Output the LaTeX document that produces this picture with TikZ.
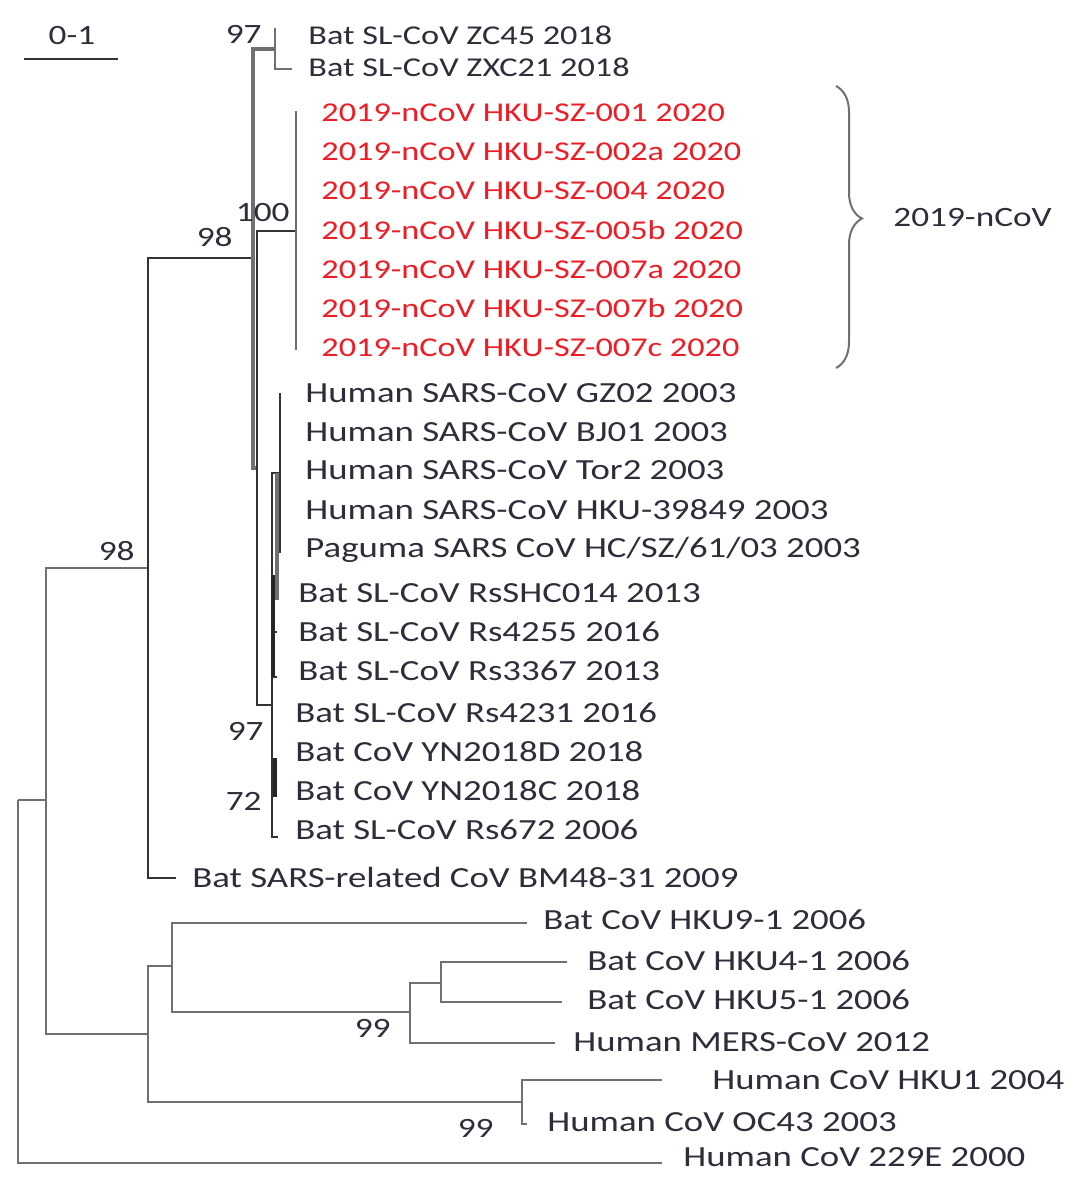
\documentclass[tikz,border=0pt]{standalone}
\usepackage{fontspec}
\setmainfont{Carlito}[FakeStretch=1.26]
\usetikzlibrary{decorations.pathreplacing}
\definecolor{txtc}{HTML}{2E2E3A}
\definecolor{nred}{HTML}{EE1C25}
\definecolor{lgray}{HTML}{707070}
\definecolor{dgray}{HTML}{333333}
\tikzset{
  branch/.style={draw=lgray, line width=1pt},
  darkbranch/.style={draw=dgray, line width=1pt},
  heavy/.style={draw=black!85, line width=2pt},
  lab/.style={anchor=base west, inner sep=0pt, text=txtc, font=\fontsize{14.6}{16}\selectfont},
  smalllab/.style={lab, font=\fontsize{13.6}{15}\selectfont},
  redlab/.style={smalllab, text=nred},
  boot/.style={anchor=base east, inner sep=0pt, text=txtc, font=\fontsize{14}{16}\selectfont},
}
\begin{document}
\begin{tikzpicture}[x=0.5pt, y=-0.5pt]
\useasboundingbox (0,0) rectangle (1080,1184);

% ---- coordinates of internal nodes and branch ends
\coordinate (root) at (18,800);
\coordinate (n1) at (46,800);
\coordinate (e229E) at (662,1163);
\coordinate (sarb) at (148,568);
\coordinate (oth) at (148,1034);
\coordinate (nA) at (253,258);
\coordinate (eBM) at (176,878);
\coordinate (nZ) at (275,49);
\coordinate (eZC45) at (275,28);
\coordinate (eZXC21) at (292,69);
\coordinate (nB) at (257,468);
\coordinate (nN) at (296,231);
\coordinate (c1) at (296,111);
\coordinate (c7) at (296,350);
\coordinate (nS) at (272,705);
\coordinate (nH) at (280,473);
\coordinate (h1) at (280,393);
\coordinate (h5) at (280,553);
\coordinate (hg1) at (277,473);
\coordinate (hg2) at (277,600);
\coordinate (rTop) at (273,575);
\coordinate (rBot) at (273,677);
\coordinate (r2) at (277,632);
\coordinate (r3) at (277,677);
\coordinate (yTop) at (275,758);
\coordinate (yBot) at (275,797);
\coordinate (e672) at (278,837);
\coordinate (n3) at (172,966);
\coordinate (n4) at (522,1102);
\coordinate (eH9) at (527,923);
\coordinate (n5) at (410,1012);
\coordinate (n6) at (441,983);
\coordinate (eMERS) at (555,1043);
\coordinate (eH4) at (567,962);
\coordinate (eH5) at (562,1002);
\coordinate (eH1) at (662,1080);
\coordinate (eOC) at (527,1124);

% ---- branches
\draw[branch] (root) |- (n1);
\draw[branch] (root) |- (e229E);
\draw[branch] (n1) |- (sarb);
\draw[branch] (n1) |- (oth);
\draw[darkbranch] (sarb) |- (nA);
\draw[darkbranch] (sarb) |- (eBM);
\draw[branch, line width=1.6pt] (nA) |- (nZ);
\draw[branch, line width=1.6pt] (nA) |- (nB);
\draw[branch] (nZ) -- (eZC45);
\draw[branch] (nZ) |- (eZXC21);
\draw[darkbranch] (nB) |- (nN);
\draw[darkbranch] (nB) |- (nS);
\draw[branch, line width=1.4pt] (nN) -- (c1);
\draw[branch, line width=1.4pt] (nN) -- (c7);
\draw[darkbranch] (nS) |- (nH);
\draw[darkbranch] (nS) |- (e672);
\draw[darkbranch] (nH) -- (h1);
\draw[darkbranch] (nH) -- (h5);
\draw[branch, line width=2pt] (hg1) -- (hg2);
\draw[heavy] (rTop) -- (rBot);
\draw[darkbranch] (rBot |- r2) -- (r2);
\draw[darkbranch] (rBot) -- (r3);
\draw[heavy] (yTop) -- (yBot);
\draw[branch] (oth) |- (n3);
\draw[branch] (oth) |- (n4);
\draw[branch] (n3) |- (eH9);
\draw[branch] (n3) |- (n5);
\draw[branch] (n5) |- (n6);
\draw[branch] (n5) |- (eMERS);
\draw[branch] (n6) |- (eH4);
\draw[branch] (n6) |- (eH5);
\draw[branch] (n4) |- (eH1);
\draw[branch] (n4) |- (eOC);

% ---- tip labels
\node[smalllab] (tZC45) at (308,44) {Bat SL-CoV ZC45 2018};
\node[smalllab] (tZXC21) at (308,76) {Bat SL-CoV ZXC21 2018};
\node[redlab] (v1) at (321,121) {2019-nCoV HKU-SZ-001 2020};
\node[redlab] (v2) at (321,160) {2019-nCoV HKU-SZ-002a 2020};
\node[redlab] (v3) at (321,199) {2019-nCoV HKU-SZ-004 2020};
\node[redlab] (v4) at (321,239) {2019-nCoV HKU-SZ-005b 2020};
\node[redlab] (v5) at (321,278) {2019-nCoV HKU-SZ-007a 2020};
\node[redlab] (v6) at (321,317) {2019-nCoV HKU-SZ-007b 2020};
\node[redlab] (v7) at (321,356) {2019-nCoV HKU-SZ-007c 2020};
\node[lab] (tGZ02) at (305,402) {Human SARS-CoV GZ02 2003};
\node[lab] (tBJ01) at (305,441) {Human SARS-CoV BJ01 2003};
\node[lab] (tTor2) at (305,479) {Human SARS-CoV Tor2 2003};
\node[lab] (tHKU39) at (305,519) {Human SARS-CoV HKU-39849 2003};
\node[lab] (tPag) at (305,557) {Paguma SARS CoV HC/SZ/61/03 2003};
\node[lab] (tSHC) at (298,602) {Bat SL-CoV RsSHC014 2013};
\node[lab] (t4255) at (298,641) {Bat SL-CoV Rs4255 2016};
\node[lab] (t3367) at (298,680) {Bat SL-CoV Rs3367 2013};
\node[lab] (t4231) at (295,722) {Bat SL-CoV Rs4231 2016};
\node[lab] (tYND) at (295,761) {Bat CoV YN2018D 2018};
\node[lab] (tYNC) at (295,800) {Bat CoV YN2018C 2018};
\node[lab] (t672) at (295,839) {Bat SL-CoV Rs672 2006};
\node[lab] (tBM) at (192,887) {Bat SARS-related CoV BM48-31 2009};
\node[lab] (tH9) at (543,929) {Bat CoV HKU9-1 2006};
\node[lab] (tH4) at (587,970) {Bat CoV HKU4-1 2006};
\node[lab] (tH5) at (587,1009) {Bat CoV HKU5-1 2006};
\node[lab] (tMERS) at (573,1051) {Human MERS-CoV 2012};
\node[lab] (tH1) at (712,1089) {Human CoV HKU1 2004};
\node[lab] (tOC) at (547,1131) {Human CoV OC43 2003};
\node[lab] (t229) at (683,1166) {Human CoV 229E 2000};

% ---- bootstrap values
\node[boot] (b97a) at (262,43) {97};
\node[boot] (b100) at (290,221) {100};
\node[boot] (b98a) at (233,246) {98};
\node[boot] (b98b) at (135,560) {98};
\node[boot] (b97b) at (264,740) {97};
\node[boot] (b72) at (262,810) {72};
\node[boot] (b99a) at (391,1037) {99};
\node[boot] (b99b) at (494,1137) {99};

% ---- scale bar
\coordinate (s1) at (24,59);
\coordinate (s2) at (118,59);
\draw[darkbranch] (s1) -- (s2);
\node[boot, anchor=base] (sc) at (72,44) {0-1};

% ---- clade brace
\coordinate (bt) at (836,86);
\coordinate (bb) at (836,368);
\draw[branch, decorate, decoration={brace, amplitude=13pt, aspect=0.47}] (bt) -- (bb);
\node[boot, anchor=base west] (clade) at (893,226) {2019-nCoV};
\end{tikzpicture}
\end{document}
